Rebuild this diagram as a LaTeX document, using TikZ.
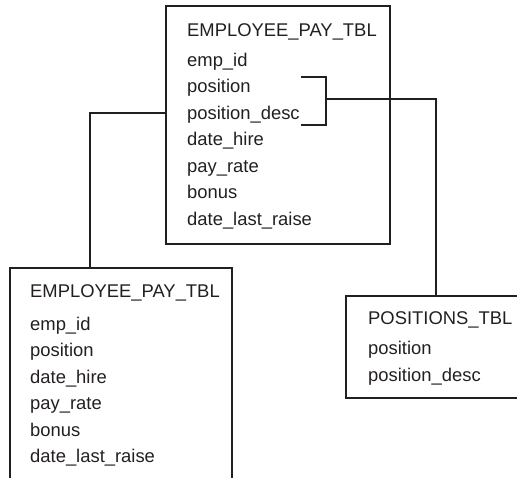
\documentclass[tikz,border=0pt]{standalone}
\usepackage{fontspec}
\setmainfont{Liberation Sans}
\definecolor{ink}{HTML}{231F20}
\begin{document}
\begin{tikzpicture}[x=1pt,y=-1pt,
  tbl/.style={draw=ink, line width=2.3pt, rectangle, inner sep=0pt, fill=none},
  conn/.style={draw=ink, line width=2.3pt},
  txt/.style={anchor=base west, inner sep=0pt, text=ink, font=\fontsize{18.4}{22}\selectfont}]
\useasboundingbox (0,0) rectangle (517,477);
\clip (0,0) rectangle (517,477);
% boxes
\node[tbl, minimum width=224pt, minimum height=238pt] (top) at (278,125) {};
\node[tbl, minimum width=222pt, minimum height=240pt] (low) at (121,388) {};
\node[tbl, minimum width=200pt, minimum height=102pt] (pos) at (446,347) {};
% top table text
\node[txt] (th) at (187,36) {EMPLOYEE\_PAY\_TBL};
\node[txt] (t1) at (187,66) {emp\_id};
\node[txt] (t2) at (187,92.5) {position};
\node[txt] (t3) at (187,119) {position\_desc};
\node[txt] (t4) at (187,145.5) {date\_hire};
\node[txt] (t5) at (187,172) {pay\_rate};
\node[txt] (t6) at (187,198.5) {bonus};
\node[txt] (t7) at (187,225) {date\_last\_raise};
% lower table text
\node[txt] (lh) at (30,297) {EMPLOYEE\_PAY\_TBL};
\node[txt] (l1) at (30,330) {emp\_id};
\node[txt] (l2) at (30,356.5) {position};
\node[txt] (l3) at (30,383) {date\_hire};
\node[txt] (l4) at (30,409.5) {pay\_rate};
\node[txt] (l5) at (30,436) {bonus};
\node[txt] (l6) at (30,462.5) {date\_last\_raise};
% positions table text
\node[txt] (ph) at (368,324) {POSITIONS\_TBL};
\node[txt] (p1) at (368,354) {position};
\node[txt] (p2) at (368,381) {position\_desc};
% bracket
\coordinate (bra) at (326,99);
\draw[conn] (301,77) -- (326,77) -- (326,125) -- (301,125);
% connectors
\draw[conn] (bra) -| (pos.north -| 436,0);
\draw[conn] (top.west |- 0,113) -| (low.north -| 90,0);
\end{tikzpicture}
\end{document}
